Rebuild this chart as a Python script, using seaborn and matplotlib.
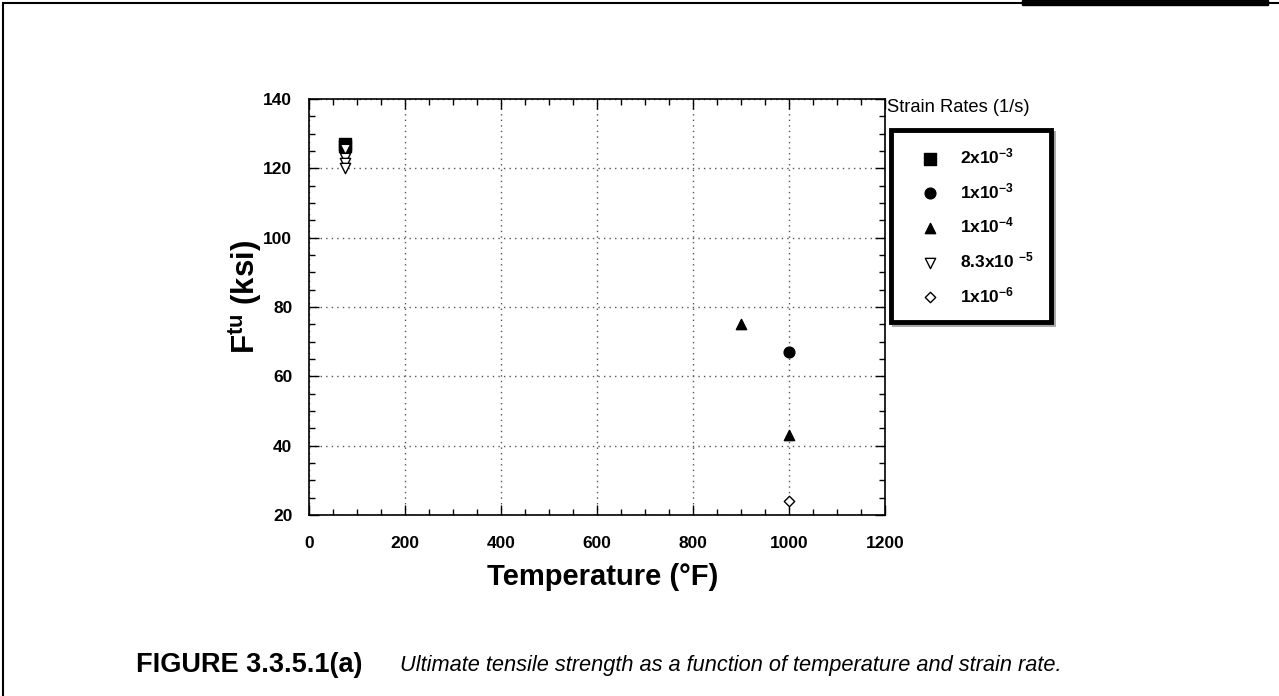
import matplotlib
matplotlib.use("Agg")
import matplotlib.pyplot as plt
from matplotlib.lines import Line2D
from matplotlib.patches import Rectangle
from matplotlib.ticker import MultipleLocator
import seaborn as sns
import pandas as pd

# ---- data ----
rate_labels = [r"2x10$^{-3}$", r"1x10$^{-3}$", r"1x10$^{-4}$", r"8.3x10 $^{-5}$", r"1x10$^{-6}$"]
temp_2e3 = [75, 75]
uts_2e3 = [127, 126.5]
temp_1e3 = [75, 1000]
uts_1e3 = [126, 67]
temp_1e4 = [900, 1000]
uts_1e4 = [75, 43]
temp_83e5 = [75, 75, 75, 75]
uts_83e5 = [125.5, 123, 121.5, 120]
temp_1e6 = [1000]
uts_1e6 = [24]
x_ticks = [0, 200, 400, 600, 800, 1000, 1200]
y_ticks = [20, 40, 60, 80, 100, 120, 140]

series = [
    (rate_labels[0], temp_2e3, uts_2e3),
    (rate_labels[1], temp_1e3, uts_1e3),
    (rate_labels[2], temp_1e4, uts_1e4),
    (rate_labels[3], temp_83e5, uts_83e5),
    (rate_labels[4], temp_1e6, uts_1e6),
]
rows = []
for lab, xs, ys in series:
    for xv, yv in zip(xs, ys):
        rows.append({"rate": lab, "T": xv, "Ftu": yv})
df = pd.DataFrame(rows)

styles = {
    rate_labels[0]: dict(marker="s", facecolor="black", s=75),
    rate_labels[1]: dict(marker="o", facecolor="black", s=60),
    rate_labels[2]: dict(marker="^", facecolor="black", s=55),
    rate_labels[3]: dict(marker="v", facecolor="white", s=55),
    rate_labels[4]: dict(marker="D", facecolor="white", s=28),
}

sns.set_style("ticks")
plt.rcParams["font.family"] = ["Liberation Sans", "DejaVu Sans"]
plt.rcParams["mathtext.fontset"] = "custom"
plt.rcParams["mathtext.rm"] = "Liberation Sans:bold"
plt.rcParams["mathtext.it"] = "Liberation Sans:bold"
plt.rcParams["mathtext.bf"] = "Liberation Sans:bold"
for k in ["text.color", "axes.labelcolor", "xtick.color", "ytick.color", "axes.edgecolor"]:
    plt.rcParams[k] = "black"

fig = plt.figure(figsize=(12.79, 6.96), dpi=100)
ax = fig.add_axes([309 / 1279, 1 - 515 / 696, 576 / 1279, 416 / 696])

for lab in rate_labels:
    sub = df[df["rate"] == lab]
    st = styles[lab]
    sns.scatterplot(data=sub, x="T", y="Ftu", ax=ax, marker=st["marker"],
                    color=st["facecolor"], edgecolor="black", linewidth=1.0,
                    s=st["s"], label=lab, zorder=3)

ax.set_xlim(0, 1200)
ax.set_ylim(20, 140)
ax.set_xticks(x_ticks)
ax.set_yticks(y_ticks)
ax.xaxis.set_minor_locator(MultipleLocator(50))
ax.yaxis.set_minor_locator(MultipleLocator(5))
ax.tick_params(which="both", direction="in", top=True, right=True, color="black")
ax.tick_params(which="major", length=7, width=1)
ax.tick_params(which="minor", length=4, width=1)
ax.tick_params(axis="x", which="major", pad=15, labelsize=12.5)
ax.tick_params(axis="y", which="major", pad=12, labelsize=12.5)
for lbl in ax.get_xticklabels() + ax.get_yticklabels():
    lbl.set_fontweight("bold")
ax.grid(True, which="major", linestyle=(0, (1, 3)), color="#555555", linewidth=1)
for sp in ax.spines.values():
    sp.set_color("black")
    sp.set_linewidth(1.2)

ax.set_xlabel("Temperature (°F)", fontsize=21, fontweight="bold")
ax.xaxis.set_label_coords((603 - 309) / 576, (515 - 577) / 416)
ax.xaxis.label.set_va("center")
ax.set_ylabel(r"F$^{tu}$ (ksi)", fontsize=22.5, fontweight="bold")
ax.yaxis.set_label_coords((246 - 309) / 576, (515 - 297) / 416)
ax.yaxis.label.set_va("center")

handles, labels = ax.get_legend_handles_labels()
leg = ax.legend(handles, labels, loc="upper left", bbox_to_anchor=(891 / 1279, 1 - 130 / 696),
                bbox_transform=fig.transFigure, frameon=True, shadow=True, fancybox=False,
                borderpad=0.95, labelspacing=0.85, handletextpad=0.45, handlelength=2.6,
                prop={"size": 12.5, "weight": "bold"}, borderaxespad=0)
leg.get_frame().set_edgecolor("black")
leg.get_frame().set_linewidth(3.5)
fig.text(887 / 1279, 1 - 107 / 696, "Strain Rates (1/s)", fontsize=13.2, va="center", ha="left")

# page frame
fig.add_artist(Line2D([2.5 / 1279, 2.5 / 1279], [0, 1 - 3 / 696], color="black", lw=1.5,
                      transform=fig.transFigure))
fig.add_artist(Line2D([2.5 / 1279, 1], [1 - 3 / 696, 1 - 3 / 696], color="black", lw=1.5,
                      transform=fig.transFigure))
fig.add_artist(Rectangle((1022 / 1279, 1 - 5 / 696), 246 / 1279, 5 / 696, color="black",
                         transform=fig.transFigure))

# caption
fig.text(136 / 1279, 1 - 665 / 696, "FIGURE 3.3.5.1(a)", fontsize=19.5, fontweight="bold",
         va="center", ha="left")
fig.text(400 / 1279, 1 - 665 / 696,
         "Ultimate tensile strength as a function of temperature and strain rate.",
         fontsize=15.7, style="italic", va="center", ha="left")

fig.savefig("out.png", dpi=100)
